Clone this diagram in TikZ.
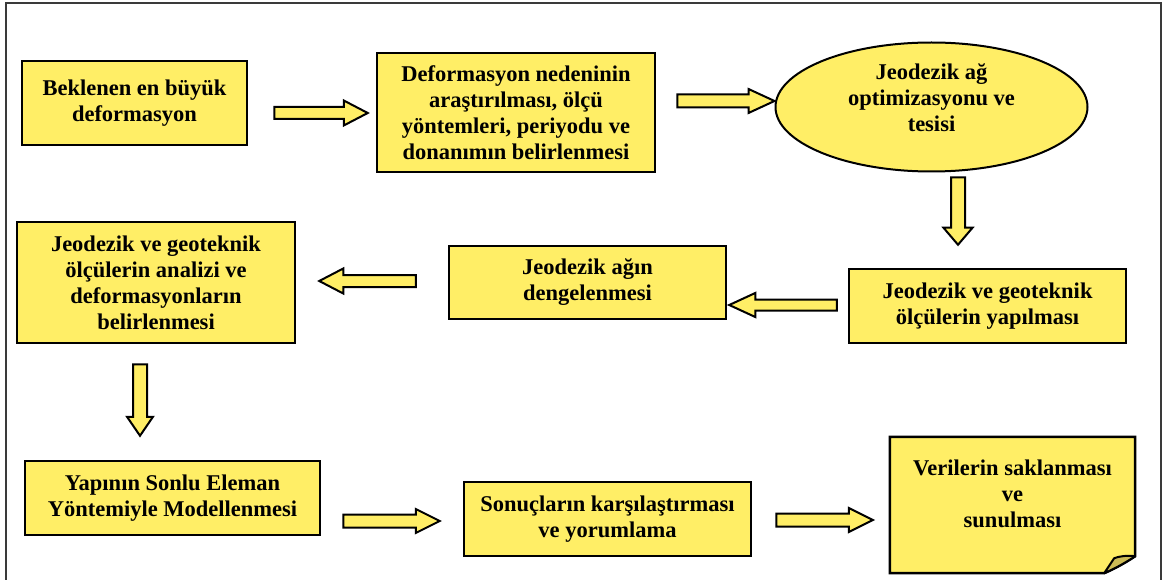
\documentclass[tikz,border=0pt]{standalone}
\usepackage{fontspec}
\setmainfont{Liberation Serif}
\usetikzlibrary{calc,shapes.geometric}
\definecolor{boxyellow}{HTML}{FFEE66}
\definecolor{foldyellow}{HTML}{CCBB55}
\definecolor{framegray}{HTML}{3A3A3A}
% #1 from, #2 to, #3 half shaft, #4 half head, #5 head length
\newcommand\blockarrow[5]{%
  \draw[blockarr] let \p1=(#1), \p2=(#2),
    \n1={atan2(\y2-\y1,\x2-\x1)}, \n2={veclen(\x2-\x1,\y2-\y1)} in
    (\p1) -- ++(\n1+90:#3pt) -- ++(\n1:\n2-#5pt) -- ++(\n1+90:#4pt-#3pt) -- (\p2)
    -- ($(\p2)+(\n1+180:#5pt)+(\n1-90:#4pt)$) -- ++(\n1+90:#4pt-#3pt)
    -- ++(\n1+180:\n2-#5pt) -- cycle;}
\begin{document}
\begin{tikzpicture}[x=1pt,y=-1pt,
  txt/.style={font=\bfseries\fontsize{22.5}{26}\selectfont, align=center, inner sep=0pt},
  box/.style={txt, draw=black, line width=2.5pt, fill=boxyellow},
  blockarr/.style={draw=black, line width=2pt, fill=boxyellow, line join=miter}]
\useasboundingbox (0,0) rectangle (1162,580);
\clip (0,0) rectangle (1162,580);
% frame
\draw[framegray, line width=2pt] (6,600) -- (6,3) -- (1161,3) -- (1161,600);
% nodes
\node[box, minimum width=225, minimum height=84] (b1) at (134.5,103)
  {Beklenen en büyük\\deformasyon};
\node[box, minimum width=278, minimum height=119] (b2) at (516,112.5)
  {Deformasyon nedeninin\\araştırılması, ölçü\\yöntemleri, periyodu ve\\donanımın belirlenmesi};
\node[ellipse, draw=black, line width=2pt, fill=boxyellow, minimum width=312,
  minimum height=129, inner sep=0pt] (e3) at (931.5,107) {};
\node[txt] (e3t) at ($(e3.center)+(0,-9)$) {Jeodezik ağ\\optimizasyonu ve\\tesisi};
\node[box, minimum width=277, minimum height=74] (b4) at (987.5,306)
  {Jeodezik ve geoteknik\\ölçülerin yapılması};
\node[box, minimum width=277, minimum height=73] (b5) at (587.5,282.5)
  {Jeodezik ağın\\dengelenmesi};
\node[box, minimum width=278, minimum height=121] (b6) at (156,282.5)
  {Jeodezik ve geoteknik\\ölçülerin analizi ve\\deformasyonların\\belirlenmesi};
\node[box, minimum width=295, minimum height=74] (b7) at (172.5,498)
  {Yapının Sonlu Eleman\\Yöntemiyle Modellenmesi};
\node[box, minimum width=287, minimum height=74] (b8) at (607.5,519)
  {Sonuçların karşılaştırması\\ve yorumlama};
% folded note
\node[inner sep=0pt, minimum width=245, minimum height=136] (b9) at (1012.5,505) {};
\draw[line width=2.5pt, fill=boxyellow, line join=miter]
  (b9.north west) -- (b9.north east) -- ($(b9.south east)+(0,-17)$)
  .. controls ($(b9.south east)+(-12,-9)$) and ($(b9.south east)+(-22,-4)$) ..
  ($(b9.south east)+(-31,0)$) -- (b9.south west) -- cycle;
\draw[line width=2pt, fill=foldyellow, line join=round]
  ($(b9.south east)+(0,-17)$)
  .. controls ($(b9.south east)+(-8,-18)$) and ($(b9.south east)+(-16,-17)$) ..
  ($(b9.south east)+(-21,-15)$) -- ($(b9.south east)+(-31,0)$)
  .. controls ($(b9.south east)+(-22,-4)$) and ($(b9.south east)+(-12,-9)$) ..
  ($(b9.south east)+(0,-17)$);
\node[txt] (b9t) at ($(b9.center)+(0,-11)$) {Verilerin saklanması\\ve\\sunulması};
% arrows
\coordinate (a1t) at ($(b2.west)+(-8,0.5)$);
\coordinate (a1s) at ($(b1.east|-a1t)+(26,0)$);
\blockarrow{a1s}{a1t}{6}{12.5}{24}
\coordinate (a2t) at ($(e3.west)+(0,-6)$);
\coordinate (a2s) at ($(b2.east|-a2t)+(21,0)$);
\blockarrow{a2s}{a2t}{6.5}{12}{26}
\coordinate (a3s) at ($(e3.south)+(26.5,5)$);
\coordinate (a3t) at ($(a3s|-b4.north)+(0,-23)$);
\blockarrow{a3s}{a3t}{7}{14.5}{17}
\coordinate (a4s) at ($(b4.west)+(-11,-1)$);
\coordinate (a4t) at ($(b5.east|-a4s)+(2,0)$);
\blockarrow{a4s}{a4t}{5.5}{12}{26}
\coordinate (a5s) at ($(b5.west)+(-32,-1.5)$);
\coordinate (a5t) at ($(b6.east|-a5s)+(23,0)$);
\blockarrow{a5s}{a5t}{6}{12.5}{24}
\coordinate (a6s) at ($(b6.south)+(-16,20)$);
\coordinate (a6t) at ($(a6s|-b7.north)+(0,-24)$);
\blockarrow{a6s}{a6t}{7}{13}{19}
\coordinate (a7t) at ($(b8.west)+(-23,2)$);
\coordinate (a7s) at ($(b7.east|-a7t)+(22,0)$);
\blockarrow{a7s}{a7t}{6.5}{12}{24}
\coordinate (a8s) at ($(b8.east)+(24,1)$);
\coordinate (a8t) at ($(b9.west|-a8s)+(-17,0)$);
\blockarrow{a8s}{a8t}{6.5}{12}{24}
\end{tikzpicture}
\end{document}
